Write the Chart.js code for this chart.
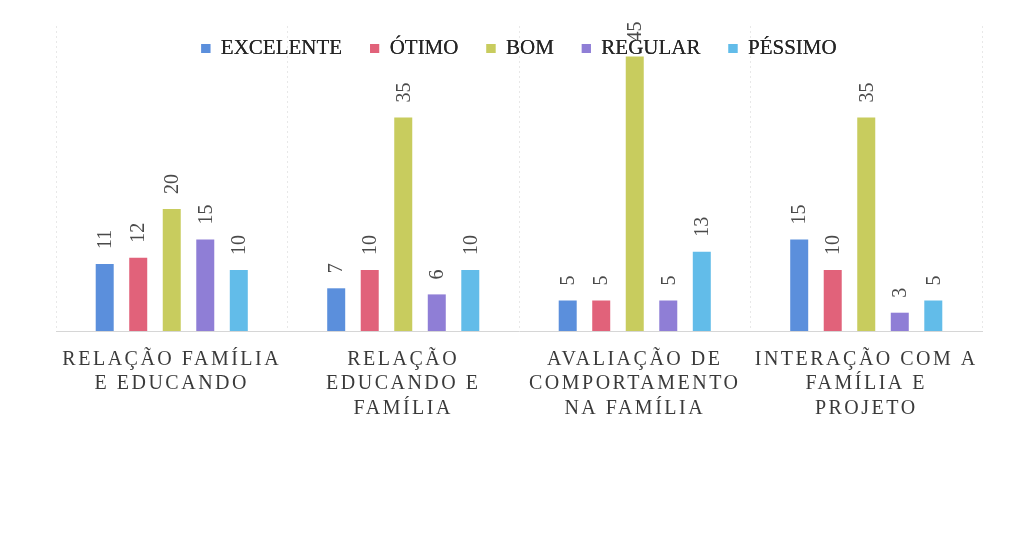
<!DOCTYPE html>
<html lang="pt">
<head>
  <meta charset="UTF-8" />
  <title>Avaliação família e educando</title>
  <script src="https://cdn.jsdelivr.net/npm/chart.js"></script>
  <style>
    body {
      margin: 0;
      background: #fff;
    }
    #wrap {
      width: 1016px;
      height: 537px;
    }
  </style>
</head>
<body>

<div id="wrap"><canvas id="chart" width="1016" height="537"></canvas></div>

<script>
const categories = [
  ["RELAÇÃO FAMÍLIA", "E EDUCANDO"],
  ["RELAÇÃO", "EDUCANDO E", "FAMÍLIA"],
  ["AVALIAÇÃO DE", "COMPORTAMENTO", "NA FAMÍLIA"],
  ["INTERAÇÃO COM A", "FAMÍLIA E", "PROJETO"]
];
const seriesNames = ["EXCELENTE", "ÓTIMO", "BOM", "REGULAR", "PÉSSIMO"];
const excelente = [11, 7, 5, 15];
const otimo = [12, 10, 5, 10];
const bom = [20, 35, 45, 35];
const regular = [15, 6, 5, 3];
const pessimo = [10, 10, 13, 5];
const colors = ["#5b8fdc", "#e1627a", "#c8cc5e", "#8f7ed6", "#62bce9"];

const serif = '"Liberation Serif", "Times New Roman", serif';

// numbers above the bars, written upright (rotated)
const valueLabels = {
  id: "valueLabels",
  afterDatasetsDraw(chart) {
    // legend sits on top of the tall bar in the original
    chart.legend.draw();
    const ctx = chart.ctx;
    ctx.save();
    ctx.font = "20px " + serif;
    ctx.fillStyle = "#4a4a4a";
    ctx.textAlign = "left";
    ctx.textBaseline = "middle";
    chart.data.datasets.forEach((ds, i) => {
      chart.getDatasetMeta(i).data.forEach((bar, j) => {
        ctx.save();
        ctx.translate(bar.x, bar.y - 15);
        ctx.rotate(-Math.PI / 2);
        ctx.fillText(ds.data[j], 0, 1);
        ctx.restore();
      });
    });
    ctx.restore();
  }
};

// legend row overlaps the plot top, and category names are letter-spaced
const tweaks = {
  id: "tweaks",
  afterLayout(chart) {
    const lg = chart.legend;
    lg.top = 10;
    lg.bottom = 70;
    lg.height = 60;
  },
  beforeDraw(chart) {
    const sx = chart.scales.x;
    if (sx._spaced) return;
    const orig = sx.drawLabels;
    sx.drawLabels = function (area) {
      this.ctx.save();
      this.ctx.letterSpacing = "2.5px";
      orig.call(this, area);
      this.ctx.restore();
    };
    sx._spaced = true;
  }
};

const seriesData = [excelente, otimo, bom, regular, pessimo];

new Chart(document.getElementById("chart"), {
  type: "bar",
  data: {
    labels: categories,
    datasets: seriesNames.map((name, i) => ({
      label: name,
      data: seriesData[i],
      backgroundColor: colors[i],
      borderWidth: 0,
      categoryPercentage: 0.724,
      barPercentage: 0.537
    }))
  },
  options: {
    responsive: false,
    animation: false,
    layout: {
      padding: { left: 56, right: 34, top: 25, bottom: 0 }
    },
    plugins: {
      legend: {
        position: "top",
        align: "center",
        maxHeight: 1,
        labels: {
          boxWidth: 9,
          boxHeight: 9,
          padding: 28,
          color: "#262626",
          font: { family: serif, size: 21 }
        }
      },
      tooltip: { enabled: false }
    },
    scales: {
      x: {
        grid: {
          offset: true,
          drawTicks: false,
          color: "rgba(0,0,0,0.09)"
        },
        border: { color: "#d6d6d6", dash: [2, 3] },
        ticks: {
          padding: 16,
          maxRotation: 0,
          autoSkip: false,
          color: "#3a3a3a",
          font: { family: serif, size: 20, lineHeight: 1.225 }
        },
        afterFit(scale) {
          scale.height = 206;
        }
      },
      y: {
        display: false,
        min: 0,
        max: 50
      }
    }
  },
  plugins: [valueLabels, tweaks]
});
</script>

</body>
</html>
